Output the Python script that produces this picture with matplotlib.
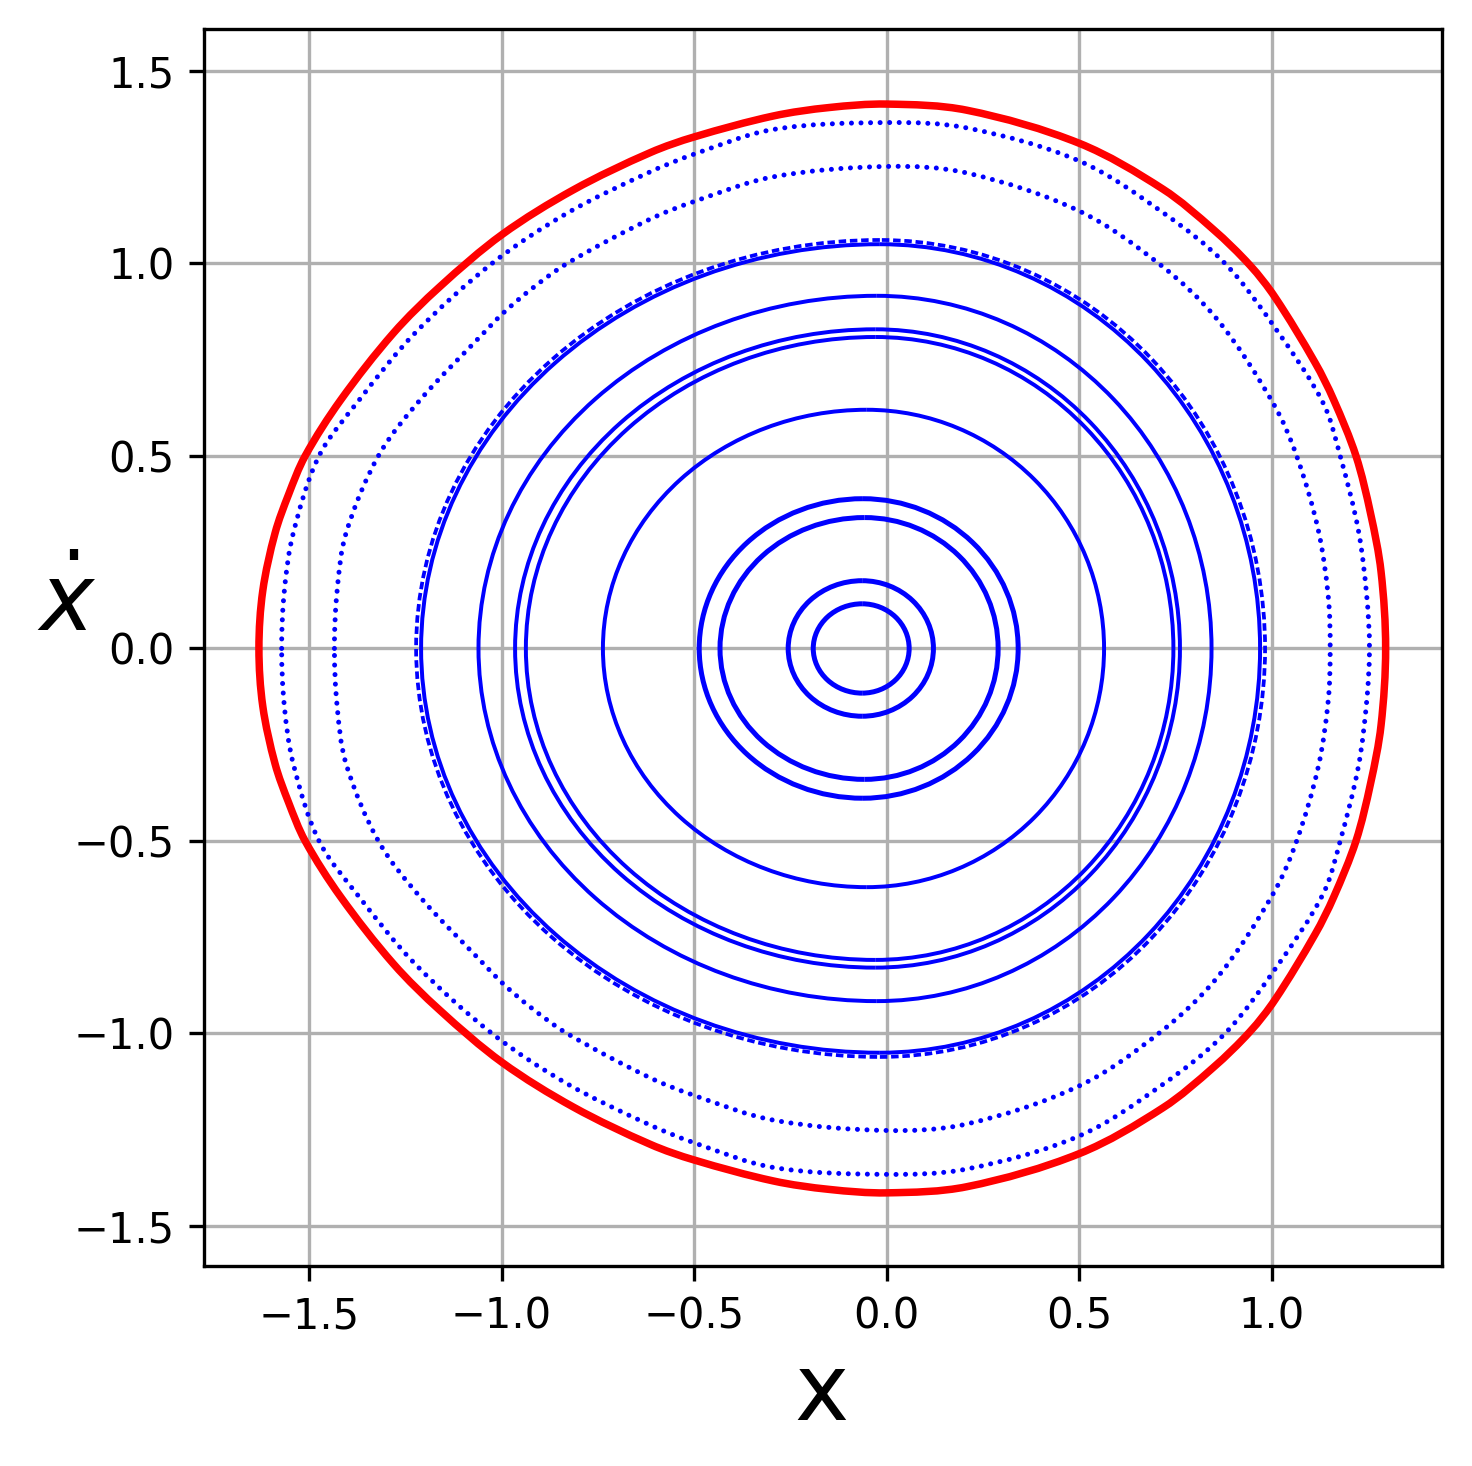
import numpy as np
import matplotlib
matplotlib.use("Agg")
import matplotlib.pyplot as plt
from matplotlib.patches import Arc, PathPatch
from matplotlib.path import Path

# inner rings of the section:
# x of the apex, crossings of xdot = 0 on the left / right, apex height
ring_apex_x = [-0.064, -0.064, -0.058, -0.062, -0.052, -0.030, -0.030, -0.026, -0.018, -0.018]
ring_left = [-0.191, -0.256, -0.433, -0.487, -0.737, -0.937, -0.965, -1.060, -1.209, -1.222]
ring_right = [0.058, 0.121, 0.289, 0.341, 0.564, 0.744, 0.761, 0.843, 0.969, 0.982]
ring_top = [0.116, 0.176, 0.340, 0.389, 0.620, 0.809, 0.829, 0.916, 1.050, 1.061]

# two outer dotted rings, upper half (lower half is the mirror image)
ring10_x = [-1.434, -1.427, -1.404, -1.320, -1.212, -1.047, -0.996, -0.926, -0.830,
            -0.619, -0.500, -0.295, 0.000, 0.208, 0.500, 0.712, 0.860, 1.003,
            1.064, 1.120, 1.146, 1.151]
ring10_v = [0.000, 0.150, 0.299, 0.500, 0.645, 0.819, 0.871, 0.931, 1.000,
            1.113, 1.161, 1.225, 1.252, 1.235, 1.136, 0.995, 0.852, 0.637,
            0.500, 0.308, 0.135, 0.000]

ring11_x = [-1.571, -1.564, -1.541, -1.474, -1.370, -1.225, -1.025, -0.831, -0.623,
            -0.500, -0.295, 0.000, 0.208, 0.500, 0.717, 0.878, 1.012, 1.133,
            1.177, 1.224, 1.246, 1.253]
ring11_v = [0.000, 0.150, 0.299, 0.500, 0.645, 0.819, 1.000, 1.130, 1.234,
            1.284, 1.348, 1.366, 1.352, 1.266, 1.132, 1.000, 0.827, 0.637,
            0.500, 0.308, 0.135, 0.000]

# bounding curve (red), upper half
bound_x = [-1.630, -1.620, -1.588, -1.553, -1.510, -1.418, -1.281, -1.160, -0.999,
           -0.814, -0.614, -0.499, -0.295, -0.150, 0.000, 0.208, 0.500, 0.717,
           0.848, 0.943, 1.008, 1.112, 1.160, 1.218, 1.256, 1.283, 1.295]
bound_v = [0.000, 0.150, 0.300, 0.400, 0.500, 0.645, 0.819, 0.940, 1.075,
           1.191, 1.288, 1.329, 1.383, 1.405, 1.414, 1.398, 1.312, 1.193,
           1.088, 0.995, 0.912, 0.742, 0.646, 0.500, 0.350, 0.200, 0.000]

x_ticks = [-1.5, -1.0, -0.5, 0.0, 0.5, 1.0]
y_ticks = [-1.5, -1.0, -0.5, 0.0, 0.5, 1.0, 1.5]


def smooth_loop(xs, vs):
    """Upper half mirrored in xdot, drawn as one closed smooth bezier path
    through the read points (chord-length scaled tangents)."""
    xs = np.asarray(xs)
    vs = np.asarray(vs)
    x = np.concatenate([xs, xs[::-1][1:-1]])
    v = np.concatenate([vs, -vs[::-1][1:-1]])
    pts = np.column_stack([x, v])
    n = len(pts)
    d = np.hypot(*(np.roll(pts, -1, axis=0) - pts).T)  # d[i] = |P[i+1] - P[i]|
    tang = (np.roll(pts, -1, axis=0) - np.roll(pts, 1, axis=0)) / \
        (d + np.roll(d, 1))[:, None]
    verts = [pts[0]]
    codes = [Path.MOVETO]
    for i in range(n):
        j = (i + 1) % n
        verts += [pts[i] + tang[i] * d[i] / 3, pts[j] - tang[j] * d[i] / 3, pts[j]]
        codes += [Path.CURVE4] * 3
    return Path(verts, codes)


def draw_ring(ax, xc, left, right, top, **kw):
    ax.add_patch(Arc((xc, 0), 2 * (xc - left), 2 * top, theta1=90, theta2=270, **kw))
    ax.add_patch(Arc((xc, 0), 2 * (right - xc), 2 * top, theta1=-90, theta2=90, **kw))


fig = plt.figure(figsize=(1472 / 300, 1466 / 300), dpi=300)
ax = fig.add_axes([204 / 1472, 1 - 1266 / 1466, 1238 / 1472, 1237 / 1466])

for i in range(len(ring_top)):
    if i < 4:
        kw = dict(color='blue', lw=1.2)
    elif i == 9:
        kw = dict(color='blue', lw=0.9, linestyle=(0, (2, 1)))
    else:
        kw = dict(color='blue', lw=0.95)
    draw_ring(ax, ring_apex_x[i], ring_left[i], ring_right[i], ring_top[i], **kw)

dotted = (0, (0.01, 1.9))
for xs, vs in [(ring10_x, ring10_v), (ring11_x, ring11_v)]:
    ax.add_patch(PathPatch(smooth_loop(xs, vs), fill=False, edgecolor='blue',
                           lw=1.2, linestyle=dotted, capstyle='round'))

ax.add_patch(PathPatch(smooth_loop(bound_x, bound_v), fill=False, edgecolor='red',
                       lw=1.8, joinstyle='round', zorder=3))

ax.set_xlim(-1.7726, 1.4413)
ax.set_ylim(-1.604, 1.609)
ax.set_xticks(x_ticks)
ax.set_yticks(y_ticks)
ax.tick_params(labelsize=10)
ax.set_axisbelow(True)
ax.grid(True)

ax.set_xlabel('x', fontsize=22, va='baseline')
ax.xaxis.set_label_coords(0.499, -0.1245)
ax.set_ylabel(r'$\dot{x}$', fontsize=22, rotation=0, ha='center', va='baseline')
ax.yaxis.set_label_coords(-0.1107, 0.5133)

fig.savefig('out.png', dpi=300)
